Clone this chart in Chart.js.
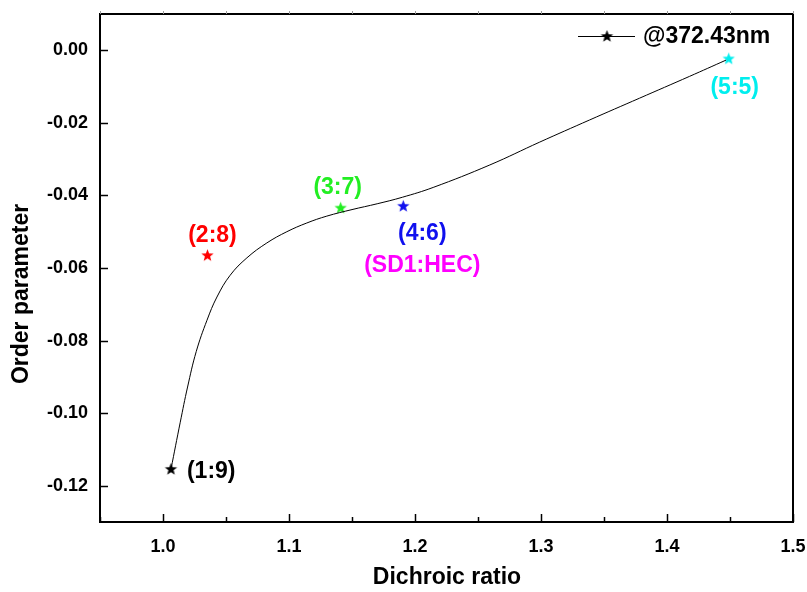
<!DOCTYPE html>
<html>
<head>
<meta charset="utf-8">
<script src="https://cdn.jsdelivr.net/npm/chart.js@4/dist/chart.umd.min.js"></script>
<style>
html,body{margin:0;padding:0;background:#fff;}
#wrap{width:807px;height:592px;position:relative;}
</style>
</head>
<body>
<div id="wrap"><canvas id="c" width="807" height="592"></canvas></div>
<script>
// ---- data ----
const curveX = [1.0063, 1.0137, 1.0195, 1.0264, 1.0349, 1.0428, 1.0533, 1.0666, 1.0824, 1.0983, 1.1141, 1.1300, 1.1500, 1.1700, 1.1900, 1.2144, 1.2594, 1.2990, 1.3386, 1.3782, 1.4178, 1.4469];
const curveY = [-0.1155, -0.1025, -0.0928, -0.0830, -0.0744, -0.0680, -0.0620, -0.0572, -0.0531, -0.0500, -0.0476, -0.0457, -0.0439, -0.0423, -0.0405, -0.0378, -0.0316, -0.0253, -0.0192, -0.0132, -0.0072, -0.0027];
const pointX = [1.0063, 1.0353, 1.1410, 1.1907, 1.4490];
const pointY = [-0.1155, -0.0566, -0.0435, -0.0430, -0.0024];
const pointLabels = ['(1:9)', '(2:8)', '(3:7)', '(4:6)', '(5:5)'];
const pointColors = ['#000000', '#ff0000', '#22ee22', '#1010ee', '#00eeee'];
const extraLabel = '(SD1:HEC)';
const legendLabel = '@372.43nm';
const xTicks = [1.0, 1.1, 1.2, 1.3, 1.4, 1.5];
const yTicks = [0.00, -0.02, -0.04, -0.06, -0.08, -0.10, -0.12];
const xTitle = 'Dichroic ratio';
const yTitle = 'Order parameter';

const FONT = '"Liberation Sans", Arial, sans-serif';

function makeStar(color, r) {
  const s = Math.ceil(r * 2 + 2);
  const cv = document.createElement('canvas');
  cv.width = s; cv.height = s;
  const g = cv.getContext('2d');
  const cx = s / 2, cy = s / 2, ri = r * 0.42;
  g.beginPath();
  for (let i = 0; i < 10; i++) {
    const rr = i % 2 === 0 ? r : ri;
    const a = -Math.PI / 2 + i * Math.PI / 5;
    const px = cx + rr * Math.cos(a), py = cy + rr * Math.sin(a);
    if (i === 0) g.moveTo(px, py); else g.lineTo(px, py);
  }
  g.closePath();
  g.fillStyle = color;
  g.fill();
  return cv;
}

const stars = pointColors.map(c => makeStar(c, 6.5));

// label placement (style, in pixels relative to the point)
const labelOffsets = [
  {dx: 16, dy: 2, align: 'left'},
  {dx: 5, dy: -20, align: 'center'},
  {dx: -3, dy: -20, align: 'center'},
  {dx: 19, dy: 27, align: 'center'},
  {dx: 6, dy: 29, align: 'center'}
];

const decor = {
  id: 'decor',
  afterDatasetsDraw(chart) {
    const ctx = chart.ctx;
    const a = chart.chartArea;
    const xs = chart.scales.x, ys = chart.scales.y;
    ctx.save();
    // frame
    ctx.strokeStyle = '#000';
    ctx.lineWidth = 2;
    ctx.strokeRect(a.left, a.top, a.right - a.left, a.bottom - a.top);
    // x ticks (major + minor), inward at bottom, outward faint at top
    for (let k = 0; k <= 11; k++) {
      const v = 0.95 + k * 0.05;
      const px = Math.round(xs.getPixelForValue(v)) + 0.5;
      const major = k % 2 === 1;
      ctx.strokeStyle = '#000';
      ctx.lineWidth = 1.5;
      ctx.beginPath();
      ctx.moveTo(px, a.bottom);
      ctx.lineTo(px, a.bottom - (major ? 8 : 5));
      ctx.stroke();
      ctx.strokeStyle = '#999';
      ctx.lineWidth = 1;
      ctx.beginPath();
      ctx.moveTo(px, a.top);
      ctx.lineTo(px, a.top - 3);
      ctx.stroke();
    }
    // y ticks
    ctx.strokeStyle = '#000';
    ctx.lineWidth = 1.5;
    yTicks.forEach(v => {
      const py = Math.round(ys.getPixelForValue(v)) + 0.5;
      ctx.beginPath();
      ctx.moveTo(a.left, py);
      ctx.lineTo(a.left + 8, py);
      ctx.stroke();
    });
    // point labels
    ctx.font = 'bold 23px ' + FONT;
    ctx.textBaseline = 'middle';
    const meta = chart.getDatasetMeta(1);
    meta.data.forEach((el, i) => {
      const o = labelOffsets[i];
      ctx.fillStyle = pointColors[i];
      ctx.textAlign = o.align;
      ctx.fillText(pointLabels[i], el.x + o.dx, el.y + o.dy);
    });
    const el4 = meta.data[3];
    ctx.fillStyle = '#ff00ff';
    ctx.textAlign = 'center';
    ctx.fillText(extraLabel, el4.x + 19, el4.y + 59);
    // legend
    const ly = 36;
    ctx.strokeStyle = '#000';
    ctx.lineWidth = 1;
    ctx.beginPath();
    ctx.moveTo(578, ly + 0.5);
    ctx.lineTo(635, ly + 0.5);
    ctx.stroke();
    ctx.drawImage(stars[0], 607 - stars[0].width / 2, ly - stars[0].height / 2 + 0.5);
    ctx.fillStyle = '#000';
    ctx.textAlign = 'left';
    ctx.fillText(legendLabel, 643, ly + 1);
    // axis titles
    ctx.font = 'bold 23px ' + FONT;
    ctx.textAlign = 'center';
    ctx.fillText(xTitle, 447, 578);
    ctx.save();
    ctx.translate(22, 294);
    ctx.rotate(-Math.PI / 2);
    ctx.fillText(yTitle, 0, 0);
    ctx.restore();
    ctx.restore();
  }
};

function noPad(s) {
  s.paddingTop = 0; s.paddingBottom = 0; s.paddingLeft = 0; s.paddingRight = 0;
}

new Chart(document.getElementById('c'), {
  type: 'scatter',
  data: {
    datasets: [
      {
        type: 'line',
        data: curveX.map((x, i) => ({x, y: curveY[i]})),
        borderColor: '#000',
        borderWidth: 1,
        pointRadius: 0,
        tension: 0.4,
        fill: false
      },
      {
        data: pointX.map((x, i) => ({x, y: pointY[i]})),
        pointStyle: stars,
        pointRadius: 7,
        pointHoverRadius: 7
      }
    ]
  },
  plugins: [decor],
  options: {
    responsive: false,
    animation: false,
    devicePixelRatio: 1,
    layout: {padding: {top: 14, right: 14, left: 0, bottom: 0}},
    plugins: {legend: {display: false}, tooltip: {enabled: false}},
    scales: {
      x: {
        type: 'linear', min: 0.95, max: 1.5,
        afterBuildTicks: s => { s.ticks = xTicks.map(v => ({value: v})); },
        afterFit: s => { s.height = 70; noPad(s); },
        grid: {display: false, drawTicks: false},
        border: {display: false},
        ticks: {padding: 14, color: '#000', font: {family: FONT, size: 18, weight: 'bold'},
                callback: v => v.toFixed(1), maxRotation: 0}
      },
      y: {
        type: 'linear', min: -0.13, max: 0.01,
        afterBuildTicks: s => { s.ticks = yTicks.map(v => ({value: v})); },
        afterFit: s => { s.width = 100; noPad(s); },
        grid: {display: false, drawTicks: false},
        border: {display: false},
        ticks: {padding: 12, color: '#000', font: {family: FONT, size: 18, weight: 'bold'},
                callback: v => v.toFixed(2)}
      }
    }
  }
});
</script>
</body>
</html>
